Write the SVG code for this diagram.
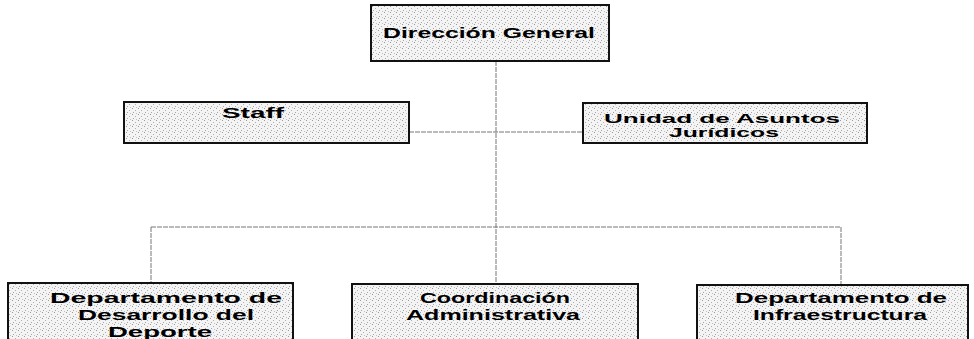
<svg xmlns="http://www.w3.org/2000/svg" width="974" height="339" viewBox="0 0 974 339">
<defs>
<pattern id="stip" width="6" height="6" patternUnits="userSpaceOnUse">
<rect width="6" height="6" fill="#f4f4f4"/>
<rect x="0" y="0" width="1" height="1" fill="#9a9a9a"/>
<rect x="3" y="2" width="1" height="1" fill="#b0b0b0"/>
<rect x="1" y="4" width="1" height="1" fill="#a5a5a5"/>
<rect x="4" y="5" width="1" height="1" fill="#c0c0c0"/>
</pattern>
</defs>
<style>
.box{fill:url(#stip);stroke:#111;stroke-width:2}
.t{font-family:"Liberation Sans",Arial,sans-serif;font-weight:bold;font-size:15px;fill:#000;text-anchor:middle}
.s{font-size:12.5px}
.c{stroke:#777;stroke-width:1;fill:none;stroke-dasharray:5 1}
</style>
<rect width="974" height="339" fill="#fff"/>
<g id="connectors">
<line class="c" x1="496" y1="61" x2="496" y2="284"/>
<line class="c" x1="409" y1="132" x2="583" y2="132"/>
<line class="c" x1="151" y1="227" x2="841" y2="227"/>
<line class="c" x1="151" y1="227" x2="151" y2="283"/>
<line class="c" x1="841" y1="227" x2="841" y2="285"/>
</g>
<g id="direccion">
<rect class="box" x="371" y="5" width="238" height="56"/>
<text class="t" x="489" y="38" textLength="212" lengthAdjust="spacingAndGlyphs">Dirección General</text>
</g>
<g id="staff">
<rect class="box" x="124" y="102" width="285" height="41"/>
<text class="t" x="253" y="118" textLength="62" lengthAdjust="spacingAndGlyphs">Staff</text>
</g>
<g id="juridicos">
<rect class="box" x="583" y="103" width="284" height="40"/>
<text class="t s" x="722" y="123" textLength="236" lengthAdjust="spacingAndGlyphs">Unidad de Asuntos</text>
<text class="t s" x="724" y="137" textLength="110" lengthAdjust="spacingAndGlyphs">Jurídicos</text>
</g>
<g id="deporte">
<rect class="box" x="8" y="283" width="285" height="62"/>
<text class="t" x="166" y="303" textLength="232" lengthAdjust="spacingAndGlyphs">Departamento de</text>
<text class="t" x="166" y="320" textLength="176" lengthAdjust="spacingAndGlyphs">Desarrollo del</text>
<text class="t" x="160" y="337" textLength="104" lengthAdjust="spacingAndGlyphs">Deporte</text>
</g>
<g id="coordinacion">
<rect class="box" x="352" y="284" width="286" height="60"/>
<text class="t" x="495" y="303" textLength="150" lengthAdjust="spacingAndGlyphs">Coordinación</text>
<text class="t" x="493" y="320" textLength="174" lengthAdjust="spacingAndGlyphs">Administrativa</text>
</g>
<g id="infraestructura">
<rect class="box" x="697" y="285" width="271" height="60"/>
<text class="t" x="841" y="303" textLength="212" lengthAdjust="spacingAndGlyphs">Departamento de</text>
<text class="t" x="840" y="320" textLength="174" lengthAdjust="spacingAndGlyphs">Infraestructura</text>
</g>
</svg>
